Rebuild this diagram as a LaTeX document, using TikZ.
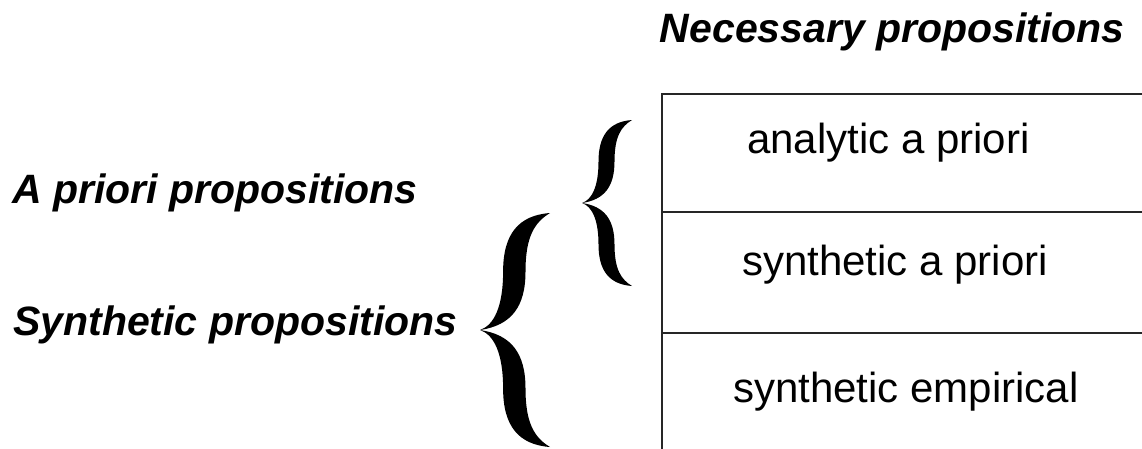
\documentclass[tikz,border=0pt]{standalone}
\usepackage{fontspec}
\setmainfont{Liberation Sans}

% curly brace: tip at (#1,#2), width #3, half height #4
\newcommand\curlybrace[4]{%
  \fill[shift={(#1,#2)},xscale=#3,yscale=#4]
    (0,0) .. controls (0.2,0.04) and (0.33,0.2) .. (0.33,0.5)
    .. controls (0.33,0.82) and (0.55,0.98) .. (1,1)
    .. controls (0.78,0.92) and (0.65,0.8) .. (0.65,0.5)
    .. controls (0.65,0.2) and (0.45,0.04) .. (0,0)
    .. controls (0.45,-0.04) and (0.65,-0.2) .. (0.65,-0.5)
    .. controls (0.65,-0.8) and (0.78,-0.92) .. (1,-1)
    .. controls (0.55,-0.98) and (0.33,-0.82) .. (0.33,-0.5)
    .. controls (0.33,-0.2) and (0.2,-0.04) .. (0,0) -- cycle;}

\begin{document}
\begin{tikzpicture}[x=1pt,y=-1pt,
    heading/.style={
      inner sep=0pt,
      font=\fontsize{41}{48}\selectfont\bfseries\itshape},
    entry/.style={
      inner sep=0pt,
      font=\fontsize{42}{50}\selectfont},
    rule/.style={line width=2.5pt,draw=black!85}]
    \clip (0,0) rectangle (1142,448);
    % the table
    \coordinate (corner) at (662,94);
    \coordinate (foot) at (662,470);
    \coordinate (topend) at (1160,94);
    \coordinate (rowa) at (662,212);
    \coordinate (rowaend) at (1160,212);
    \coordinate (rowb) at (662,333);
    \coordinate (rowbend) at (1160,333);
    \draw[rule] (topend) -- (corner) -- (foot);
    \draw[rule] (rowa) -- (rowaend);
    \draw[rule] (rowb) -- (rowbend);
    \node (necessary)  [heading,anchor=base east] at (1125,42) {Necessary propositions};
    \node (analytic)   [entry,anchor=base west] at (747,153) {analytic a priori};
    \node (synapriori) [entry,anchor=base west] at (742,275) {synthetic a priori};
    \node (empirical)  [entry,anchor=base west] at (733,402) {synthetic empirical};
    % the labels and their braces
    \node (apriori)   [heading,anchor=base west] at (12,203) {A priori propositions};
    \node (synthetic) [heading,anchor=base west] at (13,335) {Synthetic propositions};
    \curlybrace{582}{203}{50}{83}
    \curlybrace{480}{330}{70}{117}
  \end{tikzpicture}
\end{document}
